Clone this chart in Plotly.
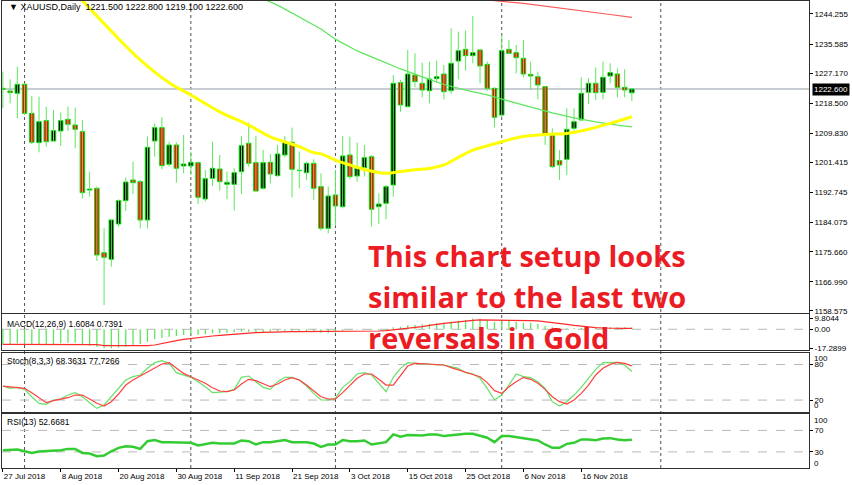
import plotly.graph_objects as go
from plotly.subplots import make_subplots

# ---------------- data (XAUUSD daily, 27 Jul 2018 - 27 Nov 2018) ----------------
opens = [1222.80, 1222.04, 1221.37, 1223.96, 1215.59, 1207.13, 1213.48, 1207.61, 1210.50, 1213.86,
         1212.23, 1210.31, 1193.47, 1193.95, 1175.39, 1173.47, 1183.66, 1190.39, 1196.36, 1195.88,
         1184.82, 1207.61, 1211.46, 1200.88, 1206.46, 1200.40, 1200.40, 1201.36, 1190.88, 1196.84,
         1199.53, 1195.11, 1195.11, 1198.76, 1206.94, 1201.36, 1193.95, 1201.45, 1197.61, 1203.57,
         1207.23, 1199.15, 1198.47, 1201.17, 1194.44, 1182.41, 1192.03, 1188.67, 1203.57, 1197.51,
         1199.92, 1203.09, 1188.67, 1189.63, 1194.92, 1224.44, 1217.52, 1226.65, 1224.25, 1222.13,
         1225.59, 1226.94, 1222.13, 1230.69, 1234.06, 1232.23, 1233.87, 1229.73, 1222.80, 1215.11,
         1234.06, 1233.10, 1231.46, 1226.84, 1226.17, 1223.29, 1209.15, 1201.94, 1202.32, 1211.27,
         1213.67, 1221.65, 1224.25, 1221.65, 1226.36, 1226.94, 1223.09, 1221.50]
highs = [1227.61, 1225.40, 1229.06, 1224.25, 1220.59, 1220.40, 1217.52, 1216.56, 1215.78, 1217.52,
         1217.23, 1213.67, 1198.76, 1194.44, 1182.41, 1185.01, 1190.78, 1197.13, 1201.65, 1196.36,
         1208.86, 1212.71, 1214.44, 1207.42, 1207.23, 1209.34, 1204.53, 1201.65, 1199.24, 1207.42,
         1203.57, 1198.76, 1199.73, 1209.05, 1212.90, 1209.05, 1205.01, 1203.86, 1206.46, 1209.05,
         1211.46, 1204.53, 1201.65, 1202.32, 1198.28, 1194.44, 1199.24, 1209.05, 1208.86, 1207.13,
         1206.46, 1203.57, 1192.51, 1194.92, 1226.65, 1225.21, 1233.87, 1232.90, 1230.21, 1230.50,
         1230.79, 1229.54, 1240.12, 1239.15, 1239.44, 1243.67, 1234.06, 1230.50, 1223.09, 1238.19,
         1236.75, 1235.31, 1236.75, 1230.50, 1227.61, 1223.48, 1211.27, 1205.01, 1217.04, 1217.04,
         1225.98, 1225.69, 1228.86, 1230.50, 1230.02, 1228.58, 1228.29, 1222.80]
lows = [1217.04, 1218.48, 1214.15, 1215.11, 1206.75, 1204.34, 1205.98, 1207.42, 1206.17, 1210.50,
        1205.49, 1191.07, 1191.55, 1172.99, 1160.29, 1171.36, 1182.90, 1187.42, 1192.32, 1182.41,
        1182.41, 1203.09, 1199.44, 1200.21, 1195.59, 1198.28, 1197.80, 1189.43, 1190.11, 1194.63,
        1193.28, 1190.78, 1187.51, 1192.32, 1200.21, 1192.99, 1193.67, 1195.40, 1197.32, 1202.90,
        1191.36, 1193.95, 1196.36, 1190.59, 1181.74, 1180.97, 1183.08, 1188.18, 1196.55, 1195.88,
        1197.32, 1182.90, 1183.66, 1185.01, 1191.55, 1216.07, 1217.32, 1223.09, 1220.21, 1218.48,
        1224.44, 1219.63, 1221.17, 1225.40, 1227.90, 1230.02, 1224.25, 1222.13, 1211.56, 1214.63,
        1232.71, 1227.13, 1225.98, 1222.52, 1219.63, 1206.46, 1199.73, 1196.36, 1197.80, 1210.59,
        1213.48, 1218.29, 1219.44, 1219.63, 1224.25, 1220.21, 1220.21, 1219.10]
closes = [1222.52, 1221.56, 1223.96, 1215.59, 1207.23, 1213.19, 1207.42, 1210.59, 1213.48, 1212.42,
          1210.98, 1192.70, 1193.76, 1174.72, 1174.05, 1184.82, 1190.39, 1195.78, 1195.59, 1184.82,
          1205.78, 1211.46, 1200.49, 1206.46, 1199.73, 1200.97, 1201.45, 1191.36, 1196.74, 1199.73,
          1195.88, 1195.69, 1198.47, 1206.27, 1201.17, 1193.18, 1201.36, 1198.09, 1203.86, 1207.13,
          1199.44, 1199.05, 1201.17, 1193.95, 1182.41, 1191.74, 1188.86, 1203.29, 1197.32, 1199.73,
          1202.80, 1187.90, 1189.43, 1194.44, 1224.25, 1218.00, 1226.94, 1224.73, 1222.32, 1225.50,
          1226.17, 1221.84, 1230.02, 1233.67, 1232.23, 1233.10, 1229.25, 1222.80, 1214.44, 1233.67,
          1232.90, 1231.65, 1226.94, 1226.36, 1223.77, 1209.34, 1200.21, 1200.69, 1210.98, 1213.19,
          1221.37, 1224.25, 1221.56, 1225.98, 1227.33, 1223.09, 1222.32, 1222.60]

# moving averages read at selected bars (bar index, value)
ma_yellow_idx = [10, 11, 15, 19, 23, 26, 30, 34, 37, 41, 43, 44, 46, 48, 50, 52, 53, 55, 57, 59,
                 61, 63, 65, 67, 69, 72, 75, 78, 81, 84, 87]
ma_yellow_val = [1250.3, 1248.1, 1239.3, 1231.0, 1224.4, 1220.9, 1216.0, 1212.2, 1208.8, 1206.0,
                 1204.2, 1203.9, 1202.1, 1200.7, 1199.4, 1198.5, 1198.3, 1198.8, 1199.3, 1199.7,
                 1200.7, 1202.9, 1205.0, 1206.2, 1207.4, 1208.9, 1209.5, 1209.8, 1211.0, 1212.7, 1214.6]
ma_green_idx = [35, 36, 38, 41, 44, 46, 49, 52, 55, 58, 61, 64, 67, 70, 73, 76, 79, 82, 85, 87]
ma_green_val = [1249.8, 1248.6, 1246.8, 1243.4, 1239.9, 1237.0, 1233.6, 1231.0, 1228.4, 1226.1,
                1223.9, 1222.3, 1220.9, 1219.1, 1217.4, 1215.7, 1214.3, 1213.1, 1212.2, 1211.7]
ma_red_idx = [66, 68, 72, 76, 80, 84, 87]
ma_red_val = [1248.7, 1248.1, 1247.3, 1246.3, 1245.1, 1244.1, 1243.3]

macd_main = [-14.26, -13.36, -12.75, -13.66, -14.26, -14.26, -13.66, -13.36, -12.75, -12.15,
             -12.15, -13.66, -14.87, -15.78, -17.29, -17.20, -16.69, -15.78, -14.26, -13.36,
             -11.24, -8.82, -7.61, -6.70, -6.09, -5.18, -4.58, -4.88, -4.58, -3.67,
             -3.37, -3.06, -2.76, -2.16, -2.16, -2.46, -2.46, -2.16, -1.85, -1.55,
             -1.85, -1.85, -2.16, -2.46, -3.06, -3.06, -2.76, -1.25, -0.64, -0.34,
             -0.04, -0.64, -0.95, -0.64, 1.78, 2.38, 3.59, 4.20, 4.50, 4.81,
             5.41, 6.02, 6.93, 7.83, 8.44, 9.80, 9.50, 8.44, 6.93, 8.44,
             7.83, 6.93, 6.02, 6.02, 4.81, 2.99, 1.78, 0.87, 0.87, 0.87,
             1.17, 1.48, 1.48, 1.78, 1.78, 1.78, 1.78, 1.61]
macd_signal = [-13.66, -13.66, -13.66, -13.66, -13.66, -13.66, -13.66, -13.66, -13.66, -13.66,
               -13.66, -13.66, -13.66, -13.96, -14.87, -14.87, -14.87, -15.17, -15.17, -15.17,
               -14.87, -14.26, -12.75, -11.54, -10.33, -9.12, -8.21, -7.30, -6.70, -6.09,
               -5.49, -4.88, -4.28, -3.67, -3.37, -3.06, -2.76, -2.46, -2.46, -2.16,
               -2.16, -2.16, -2.16, -2.16, -2.16, -2.16, -2.16, -2.16, -1.85, -1.85,
               -1.55, -1.55, -1.55, -1.25, -0.64, -0.04, 0.57, 1.48, 2.38, 3.59,
               4.81, 5.41, 6.02, 6.93, 7.53, 8.14, 8.44, 8.44, 8.44, 8.44,
               8.44, 8.44, 8.14, 7.83, 7.53, 6.93, 6.32, 5.41, 4.50, 3.59,
               2.69, 2.08, 1.48, 1.17, 0.87, 0.87, 0.87, 0.74]

stoch_k = [43.7, 39.8, 41.5, 38.1, 25.7, 14.5, 12.8, 20.1, 21.8, 28.5,
           32.5, 25.7, 15.6, 6.0, 11.7, 25.7, 41.5, 53.9, 59.5, 62.3,
           73.6, 83.2, 86.5, 82.0, 66.3, 62.3, 58.4, 51.1, 42.6, 32.5,
           33.0, 34.2, 38.1, 58.4, 60.6, 51.1, 41.5, 38.1, 51.1, 58.4,
           58.4, 53.9, 43.7, 31.4, 20.1, 20.1, 22.9, 41.5, 51.1, 64.0,
           66.3, 62.3, 48.3, 34.2, 58.4, 73.6, 83.2, 82.0, 82.0, 80.3,
           79.8, 79.2, 76.4, 73.6, 66.3, 64.0, 56.7, 39.8, 20.1, 28.5,
           45.4, 64.0, 59.5, 57.8, 51.1, 39.8, 17.3, 10.0, 17.3, 28.5,
           41.5, 56.7, 71.9, 83.2, 83.7, 83.7, 79.2, 68.36]
stoch_d = [43.7, 42.6, 41.5, 39.8, 32.5, 24.6, 15.6, 19.0, 21.2, 24.0,
           28.5, 28.5, 21.8, 14.5, 10.0, 17.3, 30.2, 45.4, 53.9, 60.6,
           66.3, 73.6, 80.9, 83.2, 73.6, 65.1, 59.5, 53.9, 48.3, 40.9,
           35.3, 34.2, 37.0, 47.1, 55.0, 52.8, 47.1, 42.6, 47.1, 53.9,
           57.8, 53.9, 45.4, 35.9, 25.7, 21.8, 21.8, 32.5, 45.4, 56.7,
           64.0, 64.0, 55.0, 45.4, 45.4, 62.3, 77.5, 82.0, 82.0, 80.9,
           79.8, 79.2, 74.7, 70.8, 66.8, 64.0, 59.5, 49.4, 35.9, 31.4,
           42.6, 51.1, 58.4, 55.0, 48.3, 38.1, 25.7, 17.3, 13.3, 20.1,
           31.4, 45.4, 62.3, 73.6, 80.3, 83.7, 82.0, 77.73]
rsi = [33.1, 33.7, 34.4, 31.2, 28.1, 30.6, 31.2, 32.5, 33.1, 35.6,
       35.6, 28.1, 26.9, 21.9, 23.1, 31.2, 37.5, 40.6, 39.4, 35.6,
       50.0, 51.9, 48.1, 48.1, 48.1, 48.1, 46.9, 41.9, 45.0, 46.9,
       45.6, 45.6, 45.6, 51.3, 50.0, 43.8, 48.1, 48.1, 50.0, 51.9,
       48.1, 48.1, 48.1, 45.6, 39.4, 43.8, 43.8, 51.9, 50.0, 50.0,
       51.3, 43.8, 45.6, 48.1, 62.5, 58.1, 61.3, 60.6, 60.6, 62.5,
       62.5, 59.4, 61.3, 63.1, 63.8, 63.8, 60.6, 56.3, 48.1, 59.4,
       59.4, 57.5, 54.4, 53.1, 51.3, 43.8, 37.5, 37.5, 45.0, 46.9,
       53.1, 53.1, 51.9, 55.0, 55.6, 53.1, 51.9, 52.67]

price_ticks = [1244.255, 1235.585, 1227.170, 1218.500, 1209.830, 1201.415, 1192.745, 1184.075,
               1175.660, 1166.990, 1158.575]
price_tick_text = ["1244.255", "1235.585", "1227.170", "1218.500", "1209.830", "1201.415",
                   "1192.745", "1184.075", "1175.660", "1166.990", "1158.575"]
date_tick_idx = [0, 8, 16, 24, 32, 40, 48, 56, 64, 72, 80]
date_tick_text = ["27 Jul 2018", "8 Aug 2018", "20 Aug 2018", "30 Aug 2018", "11 Sep 2018",
                  "21 Sep 2018", "3 Oct 2018", "15 Oct 2018", "25 Oct 2018", "6 Nov 2018",
                  "16 Nov 2018"]
month_sep_idx = [3, 26, 46, 69, 91]   # 1 Aug, 3 Sep, 1 Oct, 1 Nov, 3 Dec
last_price = 1222.6

# ---------------- figure ----------------
n = len(opens)
idx = list(range(n))
bull = [i for i in idx if closes[i] >= opens[i]]
bear = [i for i in idx if closes[i] < opens[i]]

fig = make_subplots(rows=4, cols=1, shared_xaxes=True)

wx, wy = [], []
for i in idx:
    wx += [i, i, None]
    wy += [lows[i], highs[i], None]
fig.add_trace(go.Scatter(x=wx, y=wy, mode="lines", line=dict(color="#5ee65e", width=1),
                         hoverinfo="skip"), row=1, col=1)


def bodies(ids, fill):
    return go.Bar(x=ids, y=[abs(closes[i] - opens[i]) for i in ids],
                  base=[min(opens[i], closes[i]) for i in ids], width=0.62,
                  marker=dict(color=fill, line=dict(color="#00e000", width=1)))


fig.add_trace(bodies(bull, "#000000"), row=1, col=1)
fig.add_trace(bodies(bear, "#ff0000"), row=1, col=1)

fig.add_trace(go.Scatter(x=ma_red_idx, y=ma_red_val, mode="lines",
                         line=dict(color="#ff5a5a", width=1.2)), row=1, col=1)
fig.add_trace(go.Scatter(x=ma_green_idx, y=ma_green_val, mode="lines",
                         line=dict(color="#5ee65e", width=1.2)), row=1, col=1)
fig.add_trace(go.Scatter(x=ma_yellow_idx, y=ma_yellow_val, mode="lines", line_shape="spline",
                         line=dict(color="#ffff00", width=3)), row=1, col=1)

fig.add_trace(go.Bar(x=idx, y=macd_main, width=0.18, marker=dict(color="#5ee65e", line=dict(width=0))),
              row=2, col=1)
fig.add_trace(go.Scatter(x=idx, y=macd_signal, mode="lines", line=dict(color="#ff2a2a", width=1.2)),
              row=2, col=1)

fig.add_trace(go.Scatter(x=idx, y=stoch_k, mode="lines", line=dict(color="#66e066", width=1.2)),
              row=3, col=1)
fig.add_trace(go.Scatter(x=idx, y=stoch_d, mode="lines", line=dict(color="#ff4040", width=1.2)),
              row=3, col=1)

fig.add_trace(go.Scatter(x=idx, y=rsi, mode="lines", line=dict(color="#33cc33", width=2.5)),
              row=4, col=1)

axis_font = dict(family="Liberation Sans, Arial, sans-serif", size=8, color="#000000")
line_col = "#303030"
x_range = [-0.12, 111.5]
domains = [[0.3313, 1.0], [0.2527, 0.3287], [0.1201, 0.2469], [0.0, 0.1150]]
y_ranges = [[1157.9, 1248.0], [-18.8, 13.4], [0, 100], [0, 100]]

for r in range(1, 5):
    sfx = "" if r == 1 else str(r)
    fig.layout["xaxis" + sfx].update(range=x_range, showgrid=False, zeroline=False, showline=True,
                                     mirror=True, linecolor=line_col, linewidth=1, automargin=False,
                                     ticks="", showticklabels=False)
    fig.layout["yaxis" + sfx].update(domain=domains[r - 1], range=y_ranges[r - 1], side="right",
                                     showgrid=False, zeroline=False, showline=True, mirror=True,
                                     linecolor=line_col, linewidth=1, ticks="outside", ticklen=3,
                                     tickcolor="#000000", tickfont=axis_font, automargin=False)

fig.layout.xaxis4.update(ticks="outside", ticklen=3, tickcolor="#000000", showticklabels=True,
                         tickvals=date_tick_idx, ticktext=date_tick_text, tickfont=axis_font,
                         ticklabelposition="outside right")
fig.layout.yaxis.update(tickvals=price_ticks, ticktext=price_tick_text)
fig.layout.yaxis2.update(tickvals=[9.8044, 0, -17.2899], ticktext=["9.8044", "0.00", "-17.2899"])
fig.layout.yaxis3.update(tickvals=[80, 20], ticktext=["80", "20"])
fig.layout.yaxis4.update(tickvals=[70, 30], ticktext=["70", "30"])

shapes = []
for s in month_sep_idx:
    shapes.append(dict(type="line", xref="x", yref="paper", x0=s, x1=s, y0=0, y1=1,
                       line=dict(color="#505050", width=1, dash="dot"), layer="below"))
shapes.append(dict(type="line", xref="x domain", yref="y", x0=0, x1=1, y0=last_price, y1=last_price,
                   line=dict(color="#b4bcc4", width=1.6), layer="below"))
for yref, lvl in [("y2", 0), ("y3", 80), ("y3", 20), ("y4", 70), ("y4", 30)]:
    shapes.append(dict(type="line", xref="x domain", yref=yref, x0=0, x1=1, y0=lvl, y1=lvl,
                       line=dict(color="#b8b8b8", width=1, dash="dash"), layer="below"))

lbl_font = dict(family="Liberation Sans, Arial, sans-serif", size=8.5, color="#000000")
annotations = [
    dict(text="▼ XAUUSD,Daily  1221.500 1222.800 1219.100 1222.600", xref="paper", yref="paper",
         x=0.006, y=0.987, xanchor="left", yanchor="middle", showarrow=False,
         font=dict(family="Liberation Sans, Arial, sans-serif", size=9, color="#000000")),
    dict(text="MACD(12,26,9) 1.6084 0.7391", xref="paper", yref="paper", x=0.004, y=0.3084,
         xanchor="left", yanchor="middle", showarrow=False, font=lbl_font),
    dict(text="Stoch(8,3,3) 68.3631 77.7266", xref="paper", yref="paper", x=0.004, y=0.2291,
         xanchor="left", yanchor="middle", showarrow=False, font=lbl_font),
    dict(text="RSI(13) 52.6681", xref="paper", yref="paper", x=0.004, y=0.0979,
         xanchor="left", yanchor="middle", showarrow=False, font=lbl_font),
    dict(text="1222.600", xref="paper", yref="y", x=1, y=last_price, xanchor="left",
         yanchor="middle", xshift=3, showarrow=False, bgcolor="#000000", borderpad=1,
         font=dict(family="Liberation Sans, Arial, sans-serif", size=8, color="#ffffff")),
    dict(text="100", xref="paper", yref="y3", x=1, y=100, yshift=-6, xanchor="left", xshift=3,
         yanchor="middle", showarrow=False, font=axis_font),
    dict(text="0", xref="paper", yref="y3", x=1, y=0, yshift=6, xanchor="left", xshift=3,
         yanchor="middle", showarrow=False, font=axis_font),
    dict(text="100", xref="paper", yref="y4", x=1, y=100, yshift=-6, xanchor="left", xshift=3,
         yanchor="middle", showarrow=False, font=axis_font),
    dict(text="0", xref="paper", yref="y4", x=1, y=0, yshift=5, xanchor="left", xshift=3,
         yanchor="middle", showarrow=False, font=axis_font),
]
red_lines = ["This chart setup looks", "similar to the last two", "reversals in Gold"]
red_y = [0.4560, 0.3682, 0.2804]
for t, yy in zip(red_lines, red_y):
    annotations.append(dict(text="<b>" + t + "</b>", xref="paper", yref="paper", x=0.4505, y=yy,
                            xanchor="left", yanchor="middle", showarrow=False,
                            font=dict(family="Open Sans, Noto Sans, sans-serif", size=29,
                                      color="#ec1c24")))

fig.update_layout(width=852, height=485, margin=dict(l=2, r=43, t=1, b=17, autoexpand=False),
                  paper_bgcolor="#ffffff", plot_bgcolor="#ffffff", showlegend=False,
                  barmode="overlay", shapes=shapes, annotations=annotations, hovermode=False)

fig.write_html("out.html", config={"displayModeBar": False, "staticPlot": True},
               post_script="document.body.style.margin='0';document.body.style.overflow='hidden';")
